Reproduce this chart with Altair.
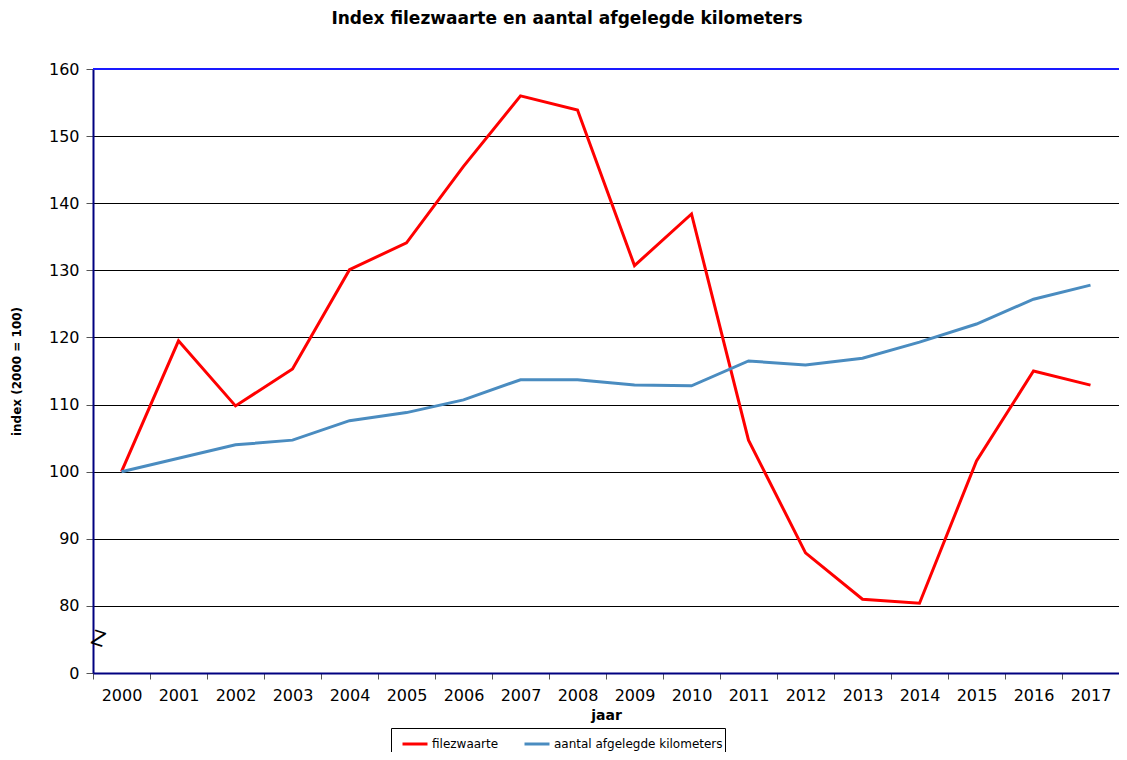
import altair as alt
import pandas as pd

years = [str(y) for y in range(2000, 2018)]
filezwaarte = [100, 119.5, 109.8, 115.3, 130.1, 134.1, 145.5, 156.0, 153.9, 130.7,
               138.4, 104.7, 87.9, 81.0, 80.4, 101.6, 115.0, 112.9]
kilometers = [100, 102.0, 104.0, 104.7, 107.6, 108.8, 110.7, 113.7, 113.7, 112.9,
              112.8, 116.5, 115.9, 116.9, 119.3, 122.0, 125.7, 127.8]
series_names = ["filezwaarte", "aantal afgelegde kilometers"]
series_colors = ["#ff0000", "#4a8cc0"]
y_ticks = [70, 80, 90, 100, 110, 120, 130, 140, 150, 160]

df = pd.concat([
    pd.DataFrame({"jaar": years, "waarde": filezwaarte, "reeks": series_names[0], "ord": 0}),
    pd.DataFrame({"jaar": years, "waarde": kilometers, "reeks": series_names[1], "ord": 1}),
])

FONT = "DejaVu Sans"
W, H = 1026, 604
step = W / len(years)

x_enc = alt.X(
    "jaar:O",
    scale=alt.Scale(type="point", padding=0.5, domain=years),
    axis=alt.Axis(
        title="jaar", titleFont=FONT, titleFontSize=14, titleFontWeight="bold",
        titleColor="black", titlePadding=5,
        labelFont=FONT, labelFontSize=16, labelColor="black", labelAngle=0,
        labelPadding=8, labelOffset=step / 2, tickOffset=-step / 2,
        tickSize=6, tickColor="#555555", domainColor="#000080", domainWidth=2,
        grid=False,
    ),
)
y_scale = alt.Scale(domain=[70, 160], nice=False, zero=False)
y_axis = alt.Axis(
    title="index (2000 = 100)", titleFont=FONT, titleFontSize=12, titleFontWeight="bold",
    titleColor="black", titlePadding=25,
    labelFont=FONT, labelFontSize=16, labelColor="black", labelPadding=7,
    values=y_ticks, labelExpr="datum.value == 70 ? '0' : datum.label",
    tickSize=7, tickColor="#555555", domainColor="#000080", domainWidth=2,
    grid=True, gridColor="black", gridWidth=1,
)
y_enc = alt.Y("waarde:Q", scale=y_scale, axis=y_axis)

lines = alt.Chart(df).mark_line(strokeWidth=3).encode(
    x=x_enc,
    y=y_enc,
    color=alt.Color(
        "reeks:N",
        scale=alt.Scale(domain=series_names, range=series_colors),
        legend=alt.Legend(
            title=None, orient="none", legendX=298, legendY=659, direction="horizontal",
            symbolType="stroke", symbolSize=625, symbolStrokeWidth=3,
            labelFont=FONT, labelFontSize=12, labelColor="black", labelLimit=400,
            strokeColor="black", padding=2, columnPadding=16, symbolOffset=8,
            labelOffset=3, fillColor="white",
        ),
    ),
    order="ord:Q",
)

top_border = alt.Chart(pd.DataFrame({"waarde": [160]})).mark_rule(color="#1a1aff", strokeWidth=2).encode(
    y=y_enc
)

brk = alt.Chart(pd.DataFrame({"waarde": [75]})).mark_text(
    text="Z", font=FONT, fontSize=20, angle=18, color="black", fontWeight="normal"
).encode(
    x=alt.value(5),
    y=y_enc,
)

chart = alt.layer(lines, top_border, brk).properties(
    width=W, height=H,
    autosize=alt.AutoSizeParams(type="none"),
    padding={"left": 85, "top": 61, "right": 0, "bottom": 79},
    title=alt.TitleParams(
        "Index filezwaarte en aantal afgelegde kilometers",
        font=FONT, fontSize=17, fontWeight="bold", color="black",
        anchor="middle", dx=-39, offset=33,
    ),
).configure_view(stroke=None).configure(background="white")

chart.save("out.html", embed_options={"renderer": "svg", "actions": False})
